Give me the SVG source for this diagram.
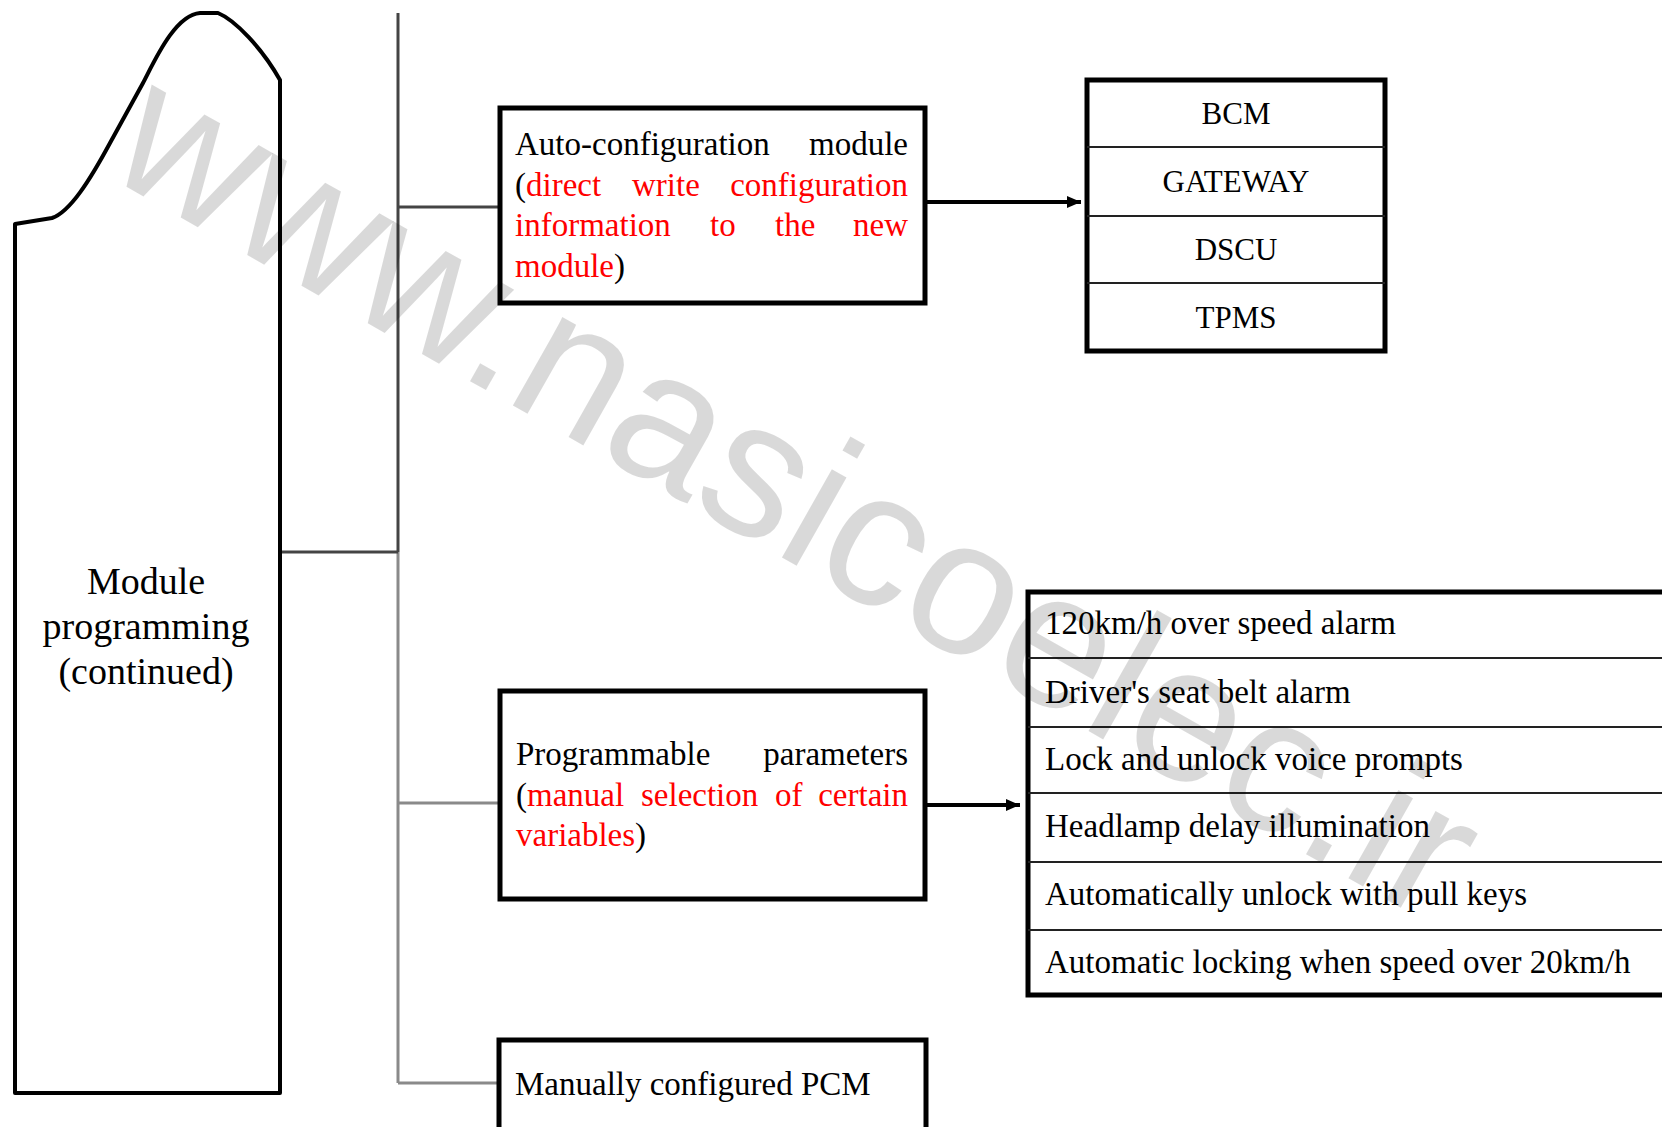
<svg xmlns="http://www.w3.org/2000/svg" width="1662" height="1127" viewBox="0 0 1662 1127">
<style>
.t{font-family:"Liberation Serif","Times New Roman",serif;fill:#000;}
.box{fill:#fff;stroke:#000;stroke-width:5;}
.red{fill:#ff0000;}
.div{stroke:#222;stroke-width:2;}
.c1{stroke:#444;stroke-width:3;fill:none;}
.c2{stroke:#8a8a8a;stroke-width:3;fill:none;}
.arr{stroke:#000;stroke-width:4;fill:none;marker-end:url(#ah);}
</style>
<defs>
<marker id="ah" markerUnits="userSpaceOnUse" viewBox="0 0 14 12" refX="14" refY="6" markerWidth="14" markerHeight="12" orient="auto">
<path d="M0,0 L14,6 L0,12 z" fill="#000"/>
</marker>
</defs>
<rect width="1662" height="1127" fill="#fff"/>

<g id="connectors">
<line class="c1" x1="398" y1="13" x2="398" y2="552"/>
<line class="c2" x1="398" y1="552" x2="398" y2="1083"/>
<line class="c1" x1="281" y1="552" x2="398" y2="552"/>
<line class="c1" x1="398" y1="207" x2="500" y2="207"/>
<line class="c2" x1="398" y1="803" x2="500" y2="803"/>
<line class="c2" x1="398" y1="1083" x2="500" y2="1083"/>
<line class="arr" x1="926" y1="202" x2="1081" y2="202"/>
<line class="arr" x1="926" y1="805" x2="1020" y2="805"/>
</g>

<g id="module-programming">
<path d="M15,1093 V224 L52,218 C70,212 90,180 110,143 L143,83 C155,60 175,15 200,13 L218,13 C235,20 262,48 280,80 V1093 Z" fill="#fff" stroke="#000" stroke-width="4" stroke-linejoin="round"/>
<text class="t" font-size="38" text-anchor="middle" x="146" y="594">Module</text>
<text class="t" font-size="38" text-anchor="middle" x="146" y="639">programming</text>
<text class="t" font-size="38" text-anchor="middle" x="146" y="684">(continued)</text>
</g>

<g id="auto-configuration">
<rect class="box" x="500" y="108" width="425" height="195"/>
<text class="t" font-size="33" x="515" y="155">Auto-configuration</text>
<text class="t" font-size="33" x="908" y="155" text-anchor="end">module</text>
<text class="t" font-size="33" x="515" y="196">(<tspan class="red">direct</tspan></text>
<text class="t red" font-size="33" x="632" y="196">write</text>
<text class="t red" font-size="33" x="908" y="196" text-anchor="end">configuration</text>
<text class="t red" font-size="33" x="515" y="236">information</text>
<text class="t red" font-size="33" x="710" y="236">to</text>
<text class="t red" font-size="33" x="775" y="236">the</text>
<text class="t red" font-size="33" x="908" y="236" text-anchor="end">new</text>
<text class="t" font-size="33" x="515" y="277"><tspan class="red">module</tspan>)</text>
</g>

<g id="module-list">
<rect class="box" x="1087" y="80" width="298" height="271"/>
<line class="div" x1="1087" y1="147" x2="1385" y2="147"/>
<line class="div" x1="1087" y1="216" x2="1385" y2="216"/>
<line class="div" x1="1087" y1="283" x2="1385" y2="283"/>
<text class="t" font-size="31" text-anchor="middle" x="1236" y="124">BCM</text>
<text class="t" font-size="31" text-anchor="middle" x="1236" y="192">GATEWAY</text>
<text class="t" font-size="31" text-anchor="middle" x="1236" y="260">DSCU</text>
<text class="t" font-size="31" text-anchor="middle" x="1236" y="328">TPMS</text>
</g>

<g id="programmable-parameters">
<rect class="box" x="500" y="691" width="425" height="208"/>
<text class="t" font-size="33" x="516" y="765">Programmable</text>
<text class="t" font-size="33" x="908" y="765" text-anchor="end">parameters</text>
<text class="t" font-size="33" x="516" y="806">(<tspan class="red">manual</tspan></text>
<text class="t red" font-size="33" x="641" y="806">selection</text>
<text class="t red" font-size="33" x="775" y="806">of</text>
<text class="t red" font-size="33" x="908" y="806" text-anchor="end">certain</text>
<text class="t" font-size="33" x="516" y="846"><tspan class="red">variables</tspan>)</text>
</g>

<g id="parameter-list">
<path d="M1662,592 H1028 V995 H1662" fill="#fff" stroke="#000" stroke-width="5"/>
<line class="div" x1="1028" y1="658" x2="1662" y2="658"/>
<line class="div" x1="1028" y1="727" x2="1662" y2="727"/>
<line class="div" x1="1028" y1="793" x2="1662" y2="793"/>
<line class="div" x1="1028" y1="862" x2="1662" y2="862"/>
<line class="div" x1="1028" y1="930" x2="1662" y2="930"/>
<text class="t" font-size="33" x="1045" y="634">120km/h over speed alarm</text>
<text class="t" font-size="33" x="1045" y="703">Driver's seat belt alarm</text>
<text class="t" font-size="33" x="1045" y="770">Lock and unlock voice prompts</text>
<text class="t" font-size="33" x="1045" y="837">Headlamp delay illumination</text>
<text class="t" font-size="33" x="1045" y="905">Automatically unlock with pull keys</text>
<text class="t" font-size="33" x="1045" y="973">Automatic locking when speed over 20km/h</text>
</g>

<g id="manual-pcm">
<rect class="box" x="499" y="1040" width="427" height="100"/>
<text class="t" font-size="33" x="515" y="1095">Manually configured PCM</text>
</g>

<g id="watermark">
<text x="102" y="173" transform="rotate(29.5 102 173)" font-family="Liberation Sans, Arial, sans-serif" font-size="192" fill="#000" fill-opacity="0.15">www.nasicoelec.ir</text>
</g>
</svg>
